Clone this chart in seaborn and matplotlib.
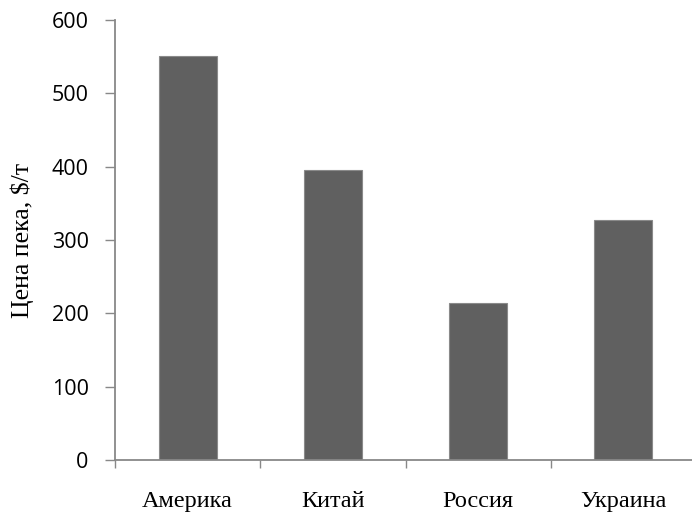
import matplotlib
matplotlib.use("Agg")
import matplotlib.pyplot as plt
import seaborn as sns
import pandas as pd
from matplotlib.ticker import FixedLocator

categories = ["Америка", "Китай", "Россия", "Украина"]
prices = [551, 395, 214, 327]
yticks = [0, 100, 200, 300, 400, 500, 600]

sns.set_style("white")
plt.rcParams['font.family'] = ['Open Sans', 'DejaVu Sans']
plt.rcParams['text.color'] = 'black'
plt.rcParams['xtick.labelcolor'] = 'black'
plt.rcParams['ytick.labelcolor'] = 'black'
plt.rcParams['axes.labelcolor'] = 'black'

df = pd.DataFrame({"country": categories, "price": prices})

fig = plt.figure(figsize=(6.92, 5.12), dpi=100)
ax = fig.add_axes([115/692, 1-460/512, 581/692, 440/512])

sns.barplot(data=df, x="country", y="price", ax=ax, color="#606060",
            width=0.4, edgecolor="#8a8a8a", linewidth=0.8, saturation=1)

ax.set_xlim(-0.5, 3.5)
ax.set_ylim(0, 600)
ax.set_yticks(yticks)
ax.set_yticklabels([str(v) for v in yticks], fontsize=15.5)

ax.xaxis.set_minor_locator(FixedLocator([-0.5, 0.5, 1.5, 2.5, 3.5]))
ax.tick_params(axis='x', which='major', bottom=False, length=0, pad=22, labelcolor='black')
ax.tick_params(axis='x', which='minor', bottom=True, length=6, width=1,
               color="#888888", direction='out')
ax.tick_params(axis='y', left=True, length=7, width=1, color="#888888",
               direction='out', pad=12, labelcolor='black')
for lab in ax.get_xticklabels():
    lab.set_fontfamily('Liberation Serif')
    lab.set_fontsize(17.5)

for s in ['top', 'right']:
    ax.spines[s].set_visible(False)
for s in ['left', 'bottom']:
    ax.spines[s].set_color("#888888")
    ax.spines[s].set_linewidth(1.3)

ax.set_xlabel("")
ax.set_ylabel("Цена пека, $/т", fontfamily='Liberation Serif', fontsize=18.5,
              labelpad=13, color='black')

fig.savefig("out.png", dpi=100)
